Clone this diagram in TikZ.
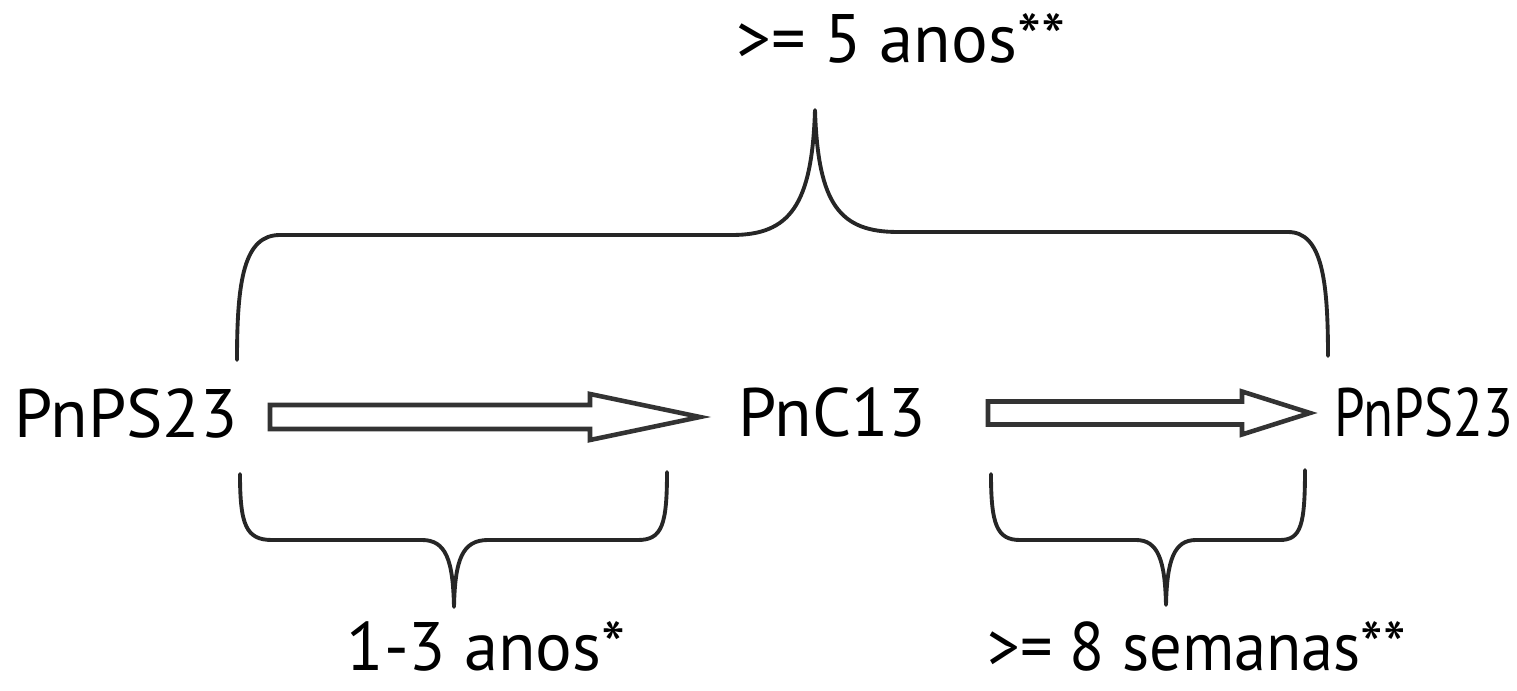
\documentclass[tikz,border=0pt]{standalone}
\usepackage{fontspec}
\setmainfont{PT Sans}
\begin{document}
\begin{tikzpicture}[x=0.01cm,y=-0.01cm,
  lbl/.style={anchor=base west,inner sep=0pt,font=\fontsize{19.5}{24}\selectfont},
  brace/.style={draw=black!85,line width=1.1pt,line cap=round,line join=round},
  blockarrow/.style={draw=black!80,line width=1.3pt,fill=white,line join=miter}]
\useasboundingbox (0,0) rectangle (1517,691);
% texts
\node[lbl] (n1) at (14,438) {PnPS23};
\node[lbl] (n2) at (738,436) {PnC13};
\node[lbl,xscale=0.8] (n3) at (1334,436) {PnPS23};
\node[lbl] (t5) at (736,63) {>= 5 anos**};
\node[lbl] (t13) at (346,670) {1-3 anos*};
\node[lbl,xscale=0.94] (t8) at (987,670) {>= 8 semanas**};
% arrow coordinates
\coordinate (a1s) at (270,417);
\coordinate (a1t) at (700,417);
\coordinate (a2s) at (988,413);
\coordinate (a2t) at (1310,413);
\draw[blockarrow] (a1s) ++(0,-12) -- ++(320,0) -- ++(0,-11) -- (a1t) -- ++(-110,23) -- ++(0,-11) -- ++(-320,0) -- cycle;
\draw[blockarrow] (a2s) ++(0,-11.5) -- ++(254,0) -- ++(0,-10) -- (a2t) -- ++(-68,21.5) -- ++(0,-10) -- ++(-254,0) -- cycle;
% top brace
\coordinate (tbL) at (237,360);
\coordinate (tbC) at (815,110);
\coordinate (tbR) at (1328,356);
\draw[brace] (tbL) .. controls (237,280) and (244,235) .. (280,235) -- (732,235)
  .. controls (790,235) and (812,205) .. (tbC)
  .. controls (818,205) and (840,232) .. (898,232) -- (1288,232)
  .. controls (1322,232) and (1328,280) .. (tbR);
% bottom left brace
\coordinate (blL) at (240,474);
\coordinate (blC) at (454,607);
\coordinate (blR) at (667,472);
\draw[brace] (blL) .. controls (240,525) and (246,540) .. (272,540) -- (422,540)
  .. controls (446,540) and (453,560) .. (blC)
  .. controls (455,560) and (462,540) .. (488,540) -- (638,540)
  .. controls (662,540) and (667,525) .. (blR);
% bottom right brace
\coordinate (brL) at (991,474);
\coordinate (brC) at (1166,605);
\coordinate (brR) at (1305,470);
\draw[brace] (brL) .. controls (991,525) and (997,540) .. (1020,540) -- (1136,540)
  .. controls (1158,540) and (1165,560) .. (brC)
  .. controls (1167,560) and (1174,540) .. (1196,540) -- (1280,540)
  .. controls (1301,540) and (1305,525) .. (brR);
\end{tikzpicture}
\end{document}
